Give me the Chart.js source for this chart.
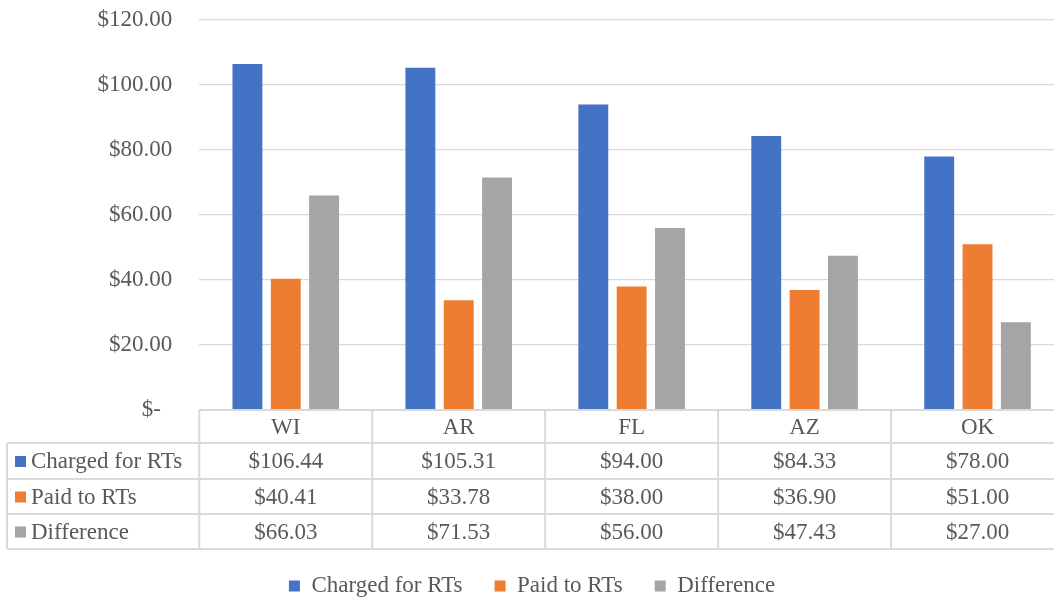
<!DOCTYPE html>
<html>
<head>
<meta charset="utf-8">
<script src="https://cdn.jsdelivr.net/npm/chart.js@4.4.1/dist/chart.umd.min.js"></script>
<style>
  html, body { margin: 0; padding: 0; background: #fff; overflow: hidden; }
  #wrap { width: 1064px; height: 597px; }
</style>
</head>
<body>
<div id="wrap"><canvas id="myChart"></canvas></div>
<script>
const states = ['WI', 'AR', 'FL', 'AZ', 'OK'];
const charged = [106.44, 105.31, 94.00, 84.33, 78.00];
const paid = [40.41, 33.78, 38.00, 36.90, 51.00];
const difference = [66.03, 71.53, 56.00, 47.43, 27.00];
const yTicks = [0, 20, 40, 60, 80, 100, 120];

const FONT = '"Liberation Serif", "Times New Roman", serif';
const TEXT = '#595959';
const GRID = '#d9d9d9';

function money(v) {
    return v === 0 ? '$-  ' : '$' + v.toFixed(2);
}

// data table under the plot, columns follow the x scale
const dataTable = {
    id: 'dataTable',
    afterDraw(chart) {
        const c = chart.ctx;
        const x = chart.scales.x;
        const n = states.length;
        const cw = (x.right - x.left) / n;
        const top = chart.chartArea.bottom;
        const rows = [top, top + 33, top + 69, top + 104, top + 139];
        const leftEdge = 7;
        c.save();
        c.strokeStyle = GRID;
        c.lineWidth = 2;
        c.beginPath();
        c.moveTo(x.left, rows[0]); c.lineTo(x.right, rows[0]);
        for (let r = 1; r < rows.length; r++) {
            c.moveTo(leftEdge, rows[r]); c.lineTo(x.right, rows[r]);
        }
        c.moveTo(leftEdge, rows[1]); c.lineTo(leftEdge, rows[4]);
        for (let i = 0; i <= n; i++) {
            const px = x.left + i * cw;
            c.moveTo(px, rows[0]); c.lineTo(px, rows[4]);
        }
        c.stroke();

        c.font = '23px ' + FONT;
        c.fillStyle = TEXT;
        c.textBaseline = 'middle';
        c.textAlign = 'center';
        states.forEach((s, i) => {
            c.fillText(s, x.getPixelForValue(i), (rows[0] + rows[1]) / 2 + 1);
        });
        chart.data.datasets.forEach((ds, r) => {
            const cy = (rows[r + 1] + rows[r + 2]) / 2 + 1;
            c.fillStyle = ds.backgroundColor;
            c.fillRect(15, cy - 6, 11, 11);
            c.fillStyle = TEXT;
            c.textAlign = 'left';
            c.fillText(ds.label, 31, cy);
            c.textAlign = 'center';
            ds.data.forEach((v, i) => {
                c.fillText(money(v), x.getPixelForValue(i), cy);
            });
        });
        c.restore();
    }
};

const ctx = document.getElementById('myChart').getContext('2d');
const myChart = new Chart(ctx, {
    type: 'bar',
    data: {
        labels: states,
        datasets: [
            { label: 'Charged for RTs', data: charged, backgroundColor: '#4472c4' },
            { label: 'Paid to RTs', data: paid, backgroundColor: '#ed7d31' },
            { label: 'Difference', data: difference, backgroundColor: '#a5a5a5' }
        ]
    },
    options: {
        responsive: true,
        maintainAspectRatio: false,
        animation: false,
        categoryPercentage: 0.665,
        barPercentage: 0.78,
        layout: { padding: { top: 0, right: 0, left: 0, bottom: -10.5 } },
        plugins: {
            tooltip: { enabled: false },
            legend: {
                position: 'bottom',
                labels: {
                    color: TEXT,
                    font: { family: FONT, size: 23 },
                    boxWidth: 11,
                    boxHeight: 11,
                    padding: 32
                }
            }
        },
        scales: {
            x: {
                grid: { display: false },
                border: { display: false },
                ticks: { display: false },
                afterFit(scale) { scale.height = 132.5; }
            },
            y: {
                min: 0,
                max: 120,
                afterBuildTicks(scale) { scale.ticks = yTicks.map(v => ({ value: v })); },
                afterFit(scale) {
                    scale.width = 199.3;
                    scale.paddingTop = 20;
                    scale.paddingBottom = 0;
                },
                grid: { color: GRID, lineWidth: 1.33, drawTicks: false },
                border: { display: false },
                ticks: {
                    color: TEXT,
                    font: { family: FONT, size: 23 },
                    padding: 27,
                    callback: v => money(v)
                }
            }
        }
    },
    plugins: [dataTable]
});
</script>
</body>
</html>
